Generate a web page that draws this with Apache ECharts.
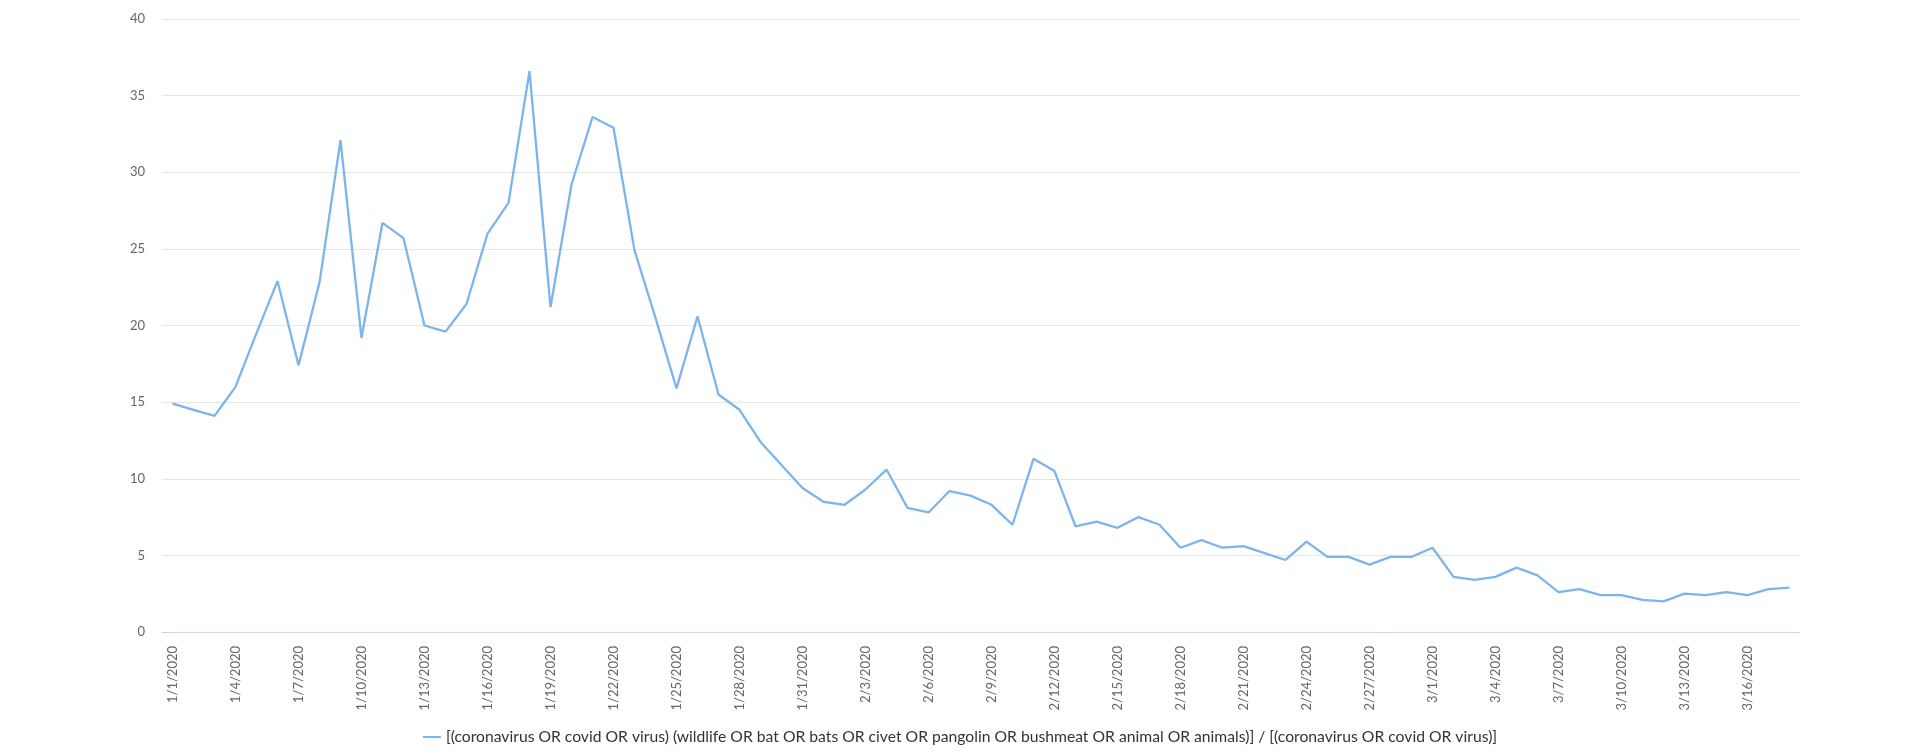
<!DOCTYPE html>
<html>
<head>
<meta charset="utf-8">
<script src="https://cdn.jsdelivr.net/npm/echarts@6/dist/echarts.min.js"></script>
<style>
html,body{margin:0;padding:0;background:#fff;}
#chart{width:1920px;height:753px;}
</style>
</head>
<body>
<div id="chart"></div>
<script>
const categories = [
"1/1/2020","1/2/2020","1/3/2020","1/4/2020","1/5/2020","1/6/2020","1/7/2020","1/8/2020","1/9/2020","1/10/2020",
"1/11/2020","1/12/2020","1/13/2020","1/14/2020","1/15/2020","1/16/2020","1/17/2020","1/18/2020","1/19/2020","1/20/2020",
"1/21/2020","1/22/2020","1/23/2020","1/24/2020","1/25/2020","1/26/2020","1/27/2020","1/28/2020","1/29/2020","1/30/2020",
"1/31/2020","2/1/2020","2/2/2020","2/3/2020","2/4/2020","2/5/2020","2/6/2020","2/7/2020","2/8/2020","2/9/2020",
"2/10/2020","2/11/2020","2/12/2020","2/13/2020","2/14/2020","2/15/2020","2/16/2020","2/17/2020","2/18/2020","2/19/2020",
"2/20/2020","2/21/2020","2/22/2020","2/23/2020","2/24/2020","2/25/2020","2/26/2020","2/27/2020","2/28/2020","2/29/2020",
"3/1/2020","3/2/2020","3/3/2020","3/4/2020","3/5/2020","3/6/2020","3/7/2020","3/8/2020","3/9/2020","3/10/2020",
"3/11/2020","3/12/2020","3/13/2020","3/14/2020","3/15/2020","3/16/2020","3/17/2020","3/18/2020"
];
const seriesName = "[(coronavirus OR covid OR virus) (wildlife OR bat OR bats OR civet OR pangolin OR bushmeat OR animal OR animals)] / [(coronavirus OR covid OR virus)]";
const values = [
14.9,14.5,14.1,16.0,19.5,22.9,17.4,22.8,32.1,19.2,
26.7,25.7,20.0,19.6,21.4,26.0,28.0,36.6,21.2,29.2,
33.6,32.9,24.9,20.5,15.9,20.6,15.5,14.5,12.4,10.9,
9.4,8.5,8.3,9.3,10.6,8.1,7.8,9.2,8.9,8.3,
7.0,11.3,10.5,6.9,7.2,6.8,7.5,7.0,5.5,6.0,
5.5,5.6,5.15,4.7,5.9,4.9,4.9,4.4,4.9,4.9,
5.5,3.6,3.4,3.6,4.2,3.7,2.6,2.8,2.4,2.4,
2.1,2.0,2.5,2.4,2.6,2.4,2.8,2.9
];
const yTicks = {min:0, max:40, interval:5};

const chart = echarts.init(document.getElementById('chart'), null, {renderer:'canvas'});
chart.setOption({
  animation:false,
  backgroundColor:'#ffffff',
  textStyle:{fontFamily:'Lato'},
  grid:{left:162, right:120, top:19, bottom:121, containLabel:false},
  legend:{
    bottom:3, left:'center',
    icon:'rect', itemWidth:18, itemHeight:2, itemGap:8,
    textStyle:{color:'#333333', fontSize:15.7, fontFamily:'Lato'},
    data:[seriesName]
  },
  xAxis:{
    type:'category',
    data:categories,
    boundaryGap:true,
    axisLine:{show:true, lineStyle:{color:'#ccd6eb', width:1}},
    axisTick:{show:false},
    axisLabel:{rotate:90, interval:2, margin:14, color:'#666666', fontSize:13, fontFamily:'Lato'},
    splitLine:{show:false}
  },
  yAxis:{
    type:'value',
    min:yTicks.min, max:yTicks.max, interval:yTicks.interval,
    axisLine:{show:false},
    axisTick:{show:false},
    axisLabel:{margin:17, color:'#666666', fontSize:13, fontFamily:'Lato'},
    splitLine:{lineStyle:{color:'#e6e6e6', width:1}}
  },
  series:[{
    name:seriesName,
    type:'line',
    data:values,
    symbol:'none',
    lineStyle:{color:'#7cb5ec', width:2.3},
    itemStyle:{color:'#7cb5ec'}
  }]
});
</script>
</body>
</html>
